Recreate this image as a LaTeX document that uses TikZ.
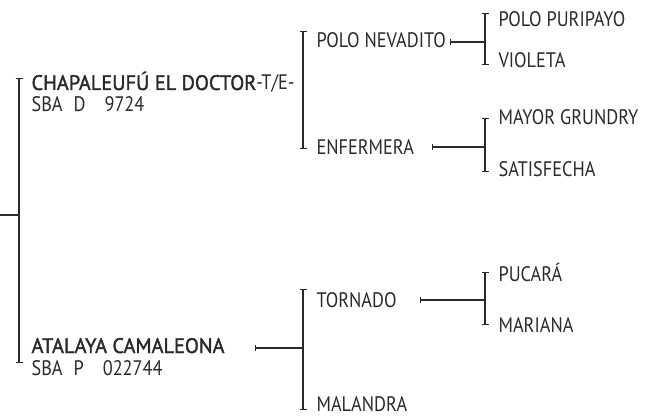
\documentclass[tikz,border=0pt]{standalone}
\usepackage{fontspec}
\setmainfont{PT Sans}[FakeStretch=0.87]
\newfontface\heavy{PT Sans}[FakeStretch=0.97, FakeBold=1.6]
\usetikzlibrary{arrows.meta}
\definecolor{ink}{HTML}{2A2A2A}

\begin{document}
\begin{tikzpicture}[x=1pt, y=-1pt, line width=1.1pt, ink,
    horse/.style={anchor=base west, inner sep=0pt, text=ink, font=\fontsize{21}{24}\selectfont},
    bracket/.style={arrows={Bar[width=7pt]-Bar[width=7pt]}},
    link/.style={arrows={Bar[width=6pt]-}}]
    \useasboundingbox (0,0) rectangle (651,417);

    % generation 1
    \node[horse] (sire) at (31,90) {{\heavy CHAPALEUFÚ EL DOCTOR}-T/E-};
    \node[horse] (sireReg) at (31,112) {SBA\hspace{11pt}D\hspace{19pt}9724};
    \node[horse] (dam) at (31,353) {{\heavy ATALAYA CAMALEONA}};
    \node[horse] (damReg) at (31,375) {SBA\hspace{11pt}P\hspace{19pt}022744};

    % generation 2
    \node[horse] (pn) at (316,48) {POLO NEVADITO};
    \node[horse] (enf) at (316,155) {ENFERMERA};
    \node[horse] (tor) at (316,307) {TORNADO};
    \node[horse] (mal) at (316,411) {MALANDRA};

    % generation 3
    \node[horse] (pp) at (498,27) {POLO PURIPAYO};
    \node[horse] (vio) at (498,68) {VIOLETA};
    \node[horse] (mg) at (498,125) {MAYOR GRUNDRY};
    \node[horse] (sat) at (498,177) {SATISFECHA};
    \node[horse] (puc) at (498,281) {PUCARÁ};
    \node[horse] (mar) at (498,332) {MARIANA};

    % brackets
    \coordinate (rootT) at (19,78); \coordinate (rootB) at (19,363);
    \coordinate (sireT) at (303,31); \coordinate (sireB) at (303,149);
    \coordinate (damT) at (303,289); \coordinate (damB) at (303,410);
    \coordinate (pnT) at (485,13); \coordinate (pnB) at (485,65);
    \coordinate (enfT) at (485,118); \coordinate (enfB) at (485,172);
    \coordinate (torT) at (485,272); \coordinate (torB) at (485,325);
    \foreach \b in {root, sire, dam, pn, enf, tor} {
        \draw[bracket] (\b T) -- (\b B);
    }

    % links into the brackets
    \coordinate (root) at (0,215);
    \coordinate (damL) at (255,348); \coordinate (pnL) at (450,42);
    \coordinate (enfL) at (432,147); \coordinate (torL) at (420,300);
    \draw (root) -- (root -| rootT);
    \draw[link] (damL) -- (damL -| damT);
    \draw[link] (pnL) -- (pnL -| pnT);
    \draw[link] (enfL) -- (enfL -| enfT);
    \draw[link] (torL) -- (torL -| torT);
\end{tikzpicture}
\end{document}
